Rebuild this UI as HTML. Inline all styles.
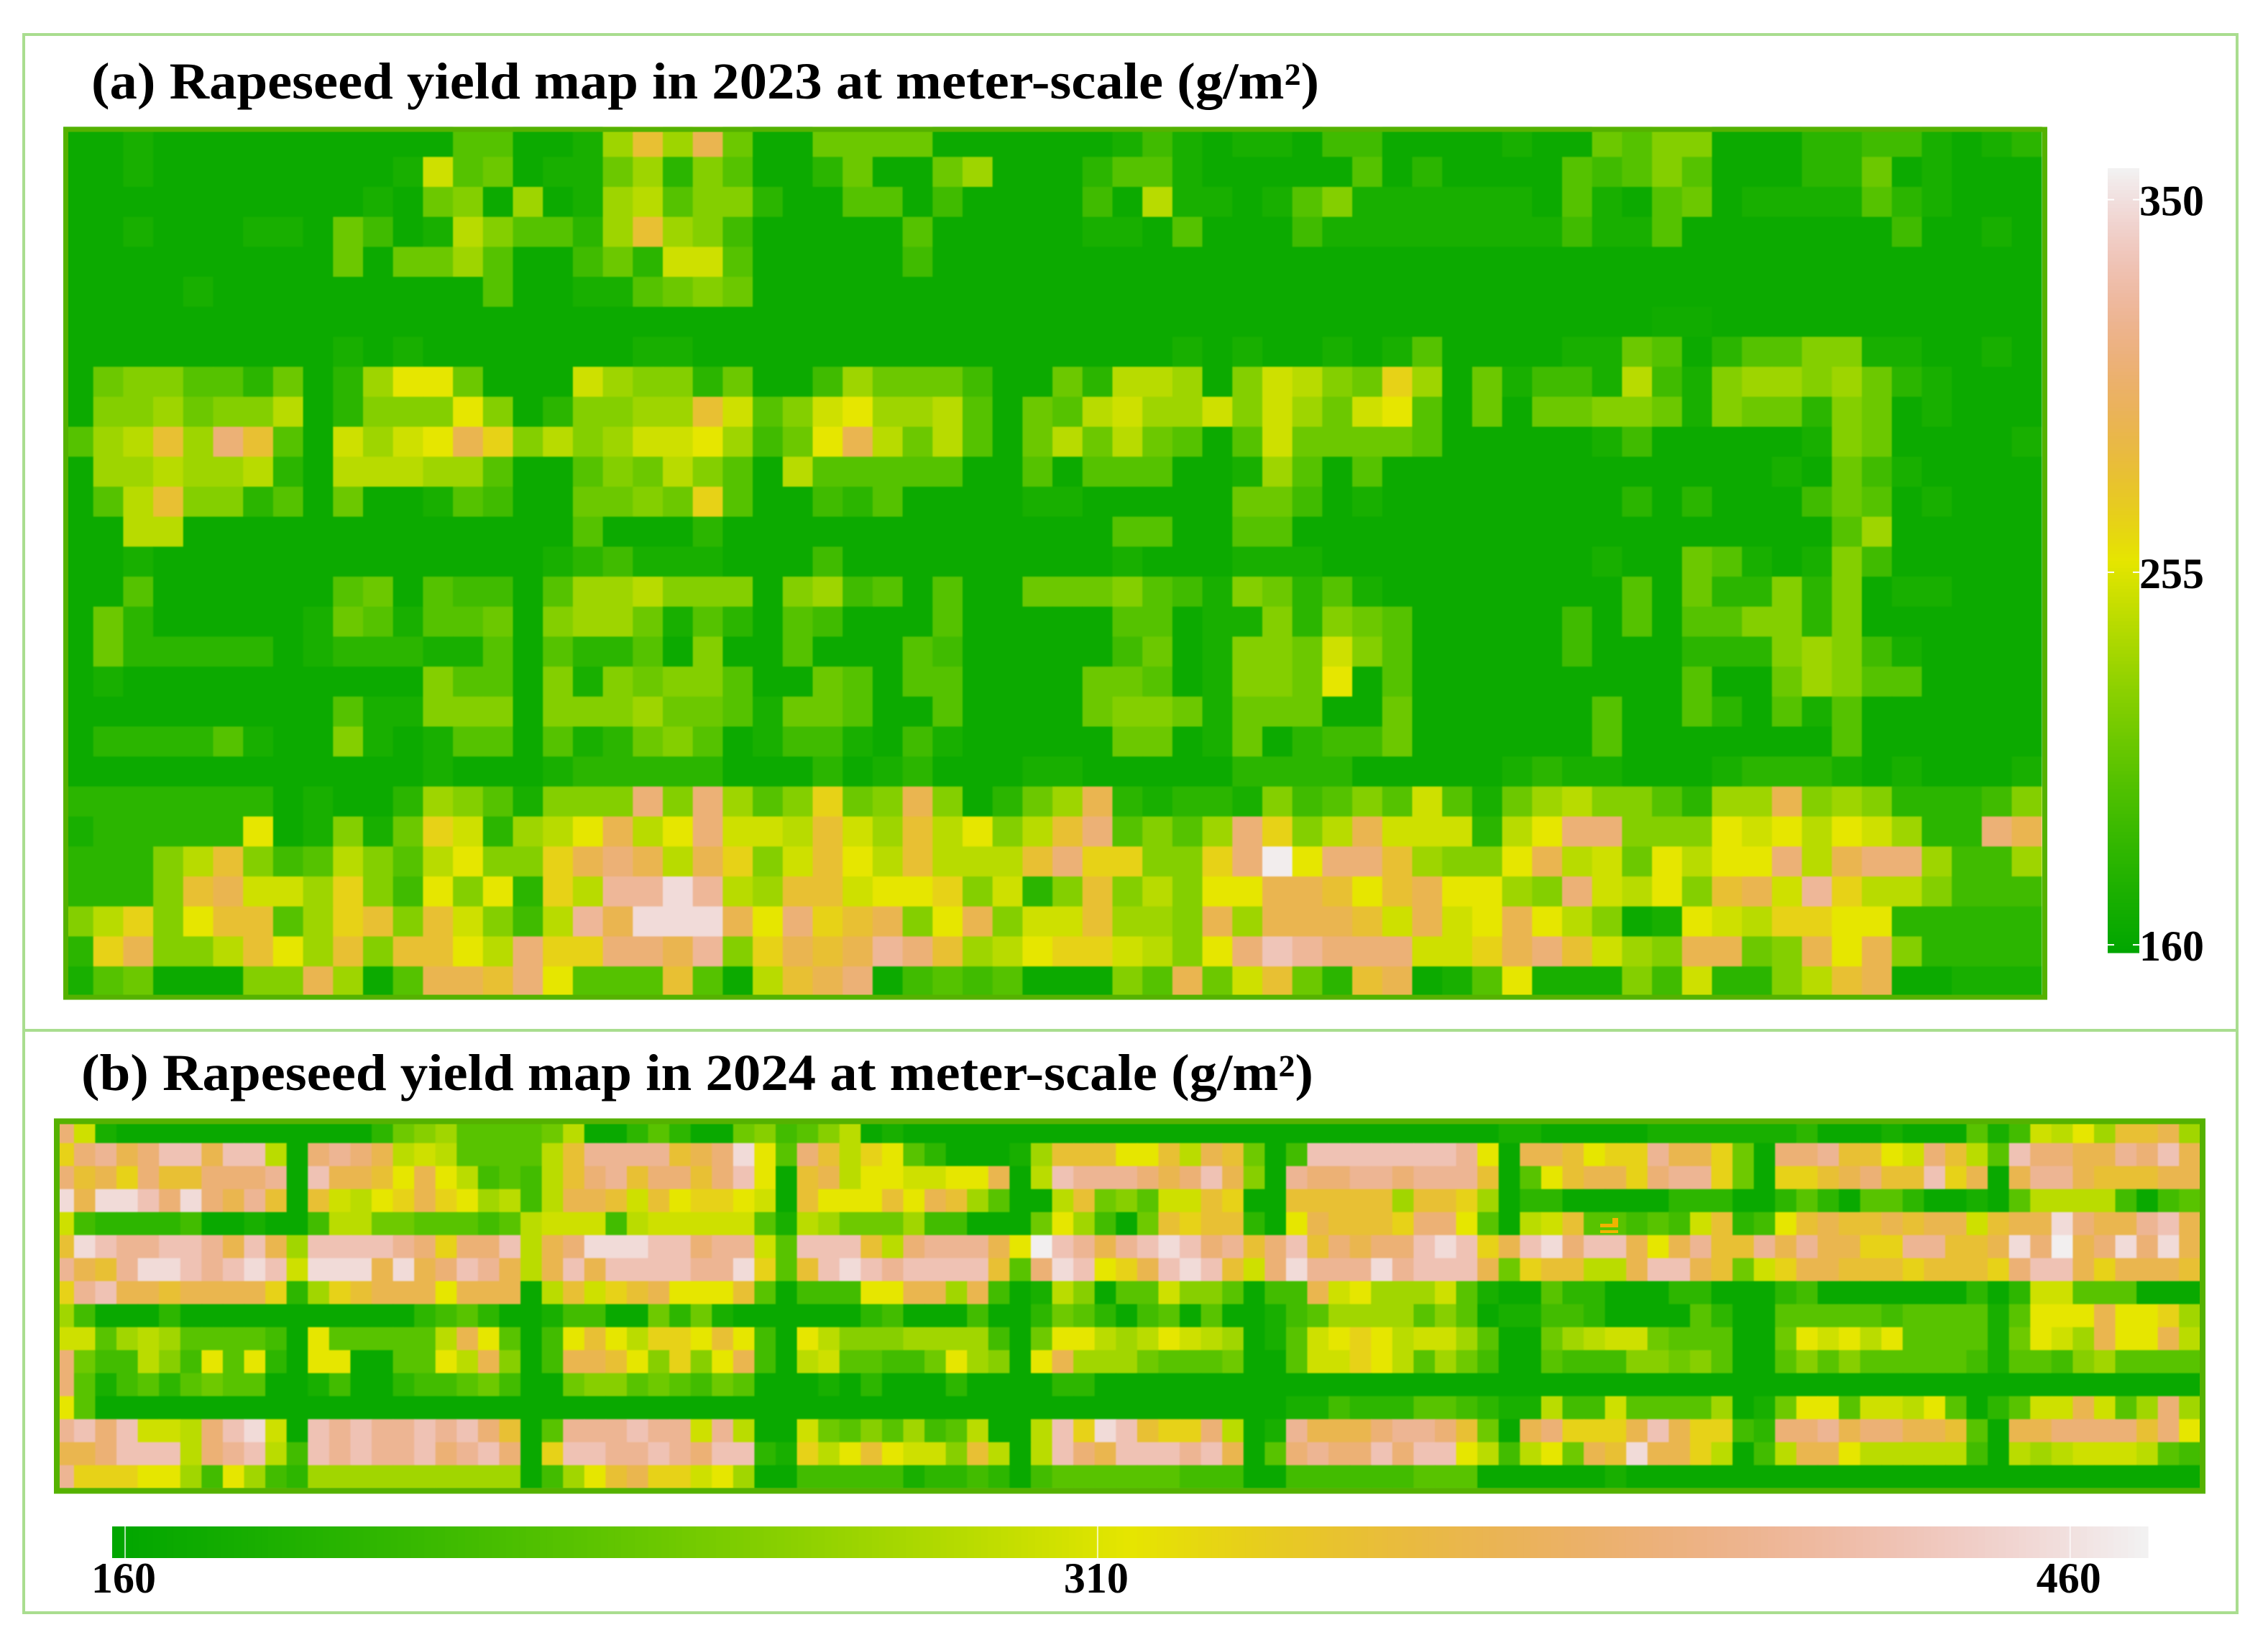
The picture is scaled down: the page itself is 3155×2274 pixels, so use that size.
<!DOCTYPE html>
<html lang="en">
<head>
<meta charset="utf-8">
<title>Rapeseed yield maps</title>
<style>
html,body{margin:0;padding:0;background:#fff;width:3155px;height:2274px;overflow:hidden}
svg{display:block}
text{font-family:"Liberation Serif",serif;font-weight:bold;fill:#000}
#heatA,#heatB{filter:blur(0.8px)}
</style>
</head>
<body>
<svg id="fig" xmlns="http://www.w3.org/2000/svg" width="3155" height="2274" viewBox="0 0 3155 2274">
<defs>
<clipPath id="clipA"><rect x="88" y="176" width="2760" height="1215"/></clipPath>
<clipPath id="clipB"><rect x="75" y="1555" width="2993" height="522"/></clipPath>
</defs>
<rect x="33" y="48" width="3079" height="2195" fill="none" stroke="#a9dd8f" stroke-width="4"/>
<line x1="33" y1="1433" x2="3112" y2="1433" stroke="#a9dd8f" stroke-width="4"/>
<text x="127" y="137" font-size="72" textLength="1708" lengthAdjust="spacingAndGlyphs">(a) Rapeseed yield map in 2023 at meter-scale (g/m²)</text>
<text x="113" y="1516" font-size="72" textLength="1714" lengthAdjust="spacingAndGlyphs">(b) Rapeseed yield map in 2024 at meter-scale (g/m²)</text>
<g id="heatA" clip-path="url(#clipA)"></g>
<rect x="91.5" y="180" width="2753" height="1207" fill="none" stroke="#55b200" stroke-width="7"/>
<g id="heatB" clip-path="url(#clipB)"></g>
<rect x="79" y="1559.5" width="2985" height="514" fill="none" stroke="#55b200" stroke-width="8"/>
<g fill="#f0b400">
<rect x="2243" y="1694" width="8" height="12"/><rect x="2226" y="1702" width="25" height="5"/><rect x="2226" y="1711" width="25" height="4"/>
</g>
<g id="barA"></g>
<g id="barB"></g>
</svg>
<script>
const yield2023 = [
[165,165,172,165,165,165,165,165,165,165,165,165,165,202,202,165,165,172,232,280,232,292,212,165,165,212,212,212,212,165,165,165,165,165,165,172,192,172,165,172,172,165,192,192,165,165,165,165,172,165,165,212,202,222,222,165,165,165,182,182,192,192,172,165,172,182],
[165,165,172,165,165,165,165,165,165,165,165,172,250,202,212,165,172,172,212,232,182,222,202,165,165,182,212,165,165,212,232,165,165,165,182,202,202,172,165,165,165,165,165,202,165,182,165,165,165,165,202,192,202,222,202,165,165,165,182,182,212,165,172,165,165,165],
[165,165,165,165,165,165,165,165,165,165,172,165,212,222,165,232,165,172,232,242,202,222,222,182,165,165,202,202,165,192,165,165,165,165,192,165,242,172,172,165,172,202,222,172,172,172,172,172,172,165,202,172,165,202,212,165,172,172,172,172,202,182,172,165,165,165],
[165,165,172,165,165,165,172,172,165,212,192,165,172,242,222,202,202,182,232,280,232,222,192,165,165,165,165,165,202,165,165,165,165,165,172,172,165,202,165,165,165,192,172,172,172,172,172,172,172,172,192,172,172,202,165,165,165,165,165,165,165,192,165,165,172,165],
[165,165,165,165,165,165,165,165,165,212,165,212,212,232,202,165,165,192,212,182,250,250,202,165,165,165,165,165,192,165,165,165,165,165,165,165,165,165,165,165,165,165,165,165,165,165,165,165,165,165,165,165,165,165,165,165,165,165,165,165,165,165,165,165,165,165],
[165,165,165,165,172,165,165,165,165,165,165,165,165,165,202,165,165,172,172,202,212,222,212,165,165,165,165,165,165,165,165,165,165,165,165,165,165,165,165,165,165,165,165,165,165,165,165,165,165,165,165,165,165,165,165,165,165,165,165,165,165,165,165,165,165,165],
[165,165,165,165,165,165,165,165,165,165,165,165,165,165,165,165,165,165,165,165,165,165,165,165,165,165,165,165,165,165,165,165,165,165,165,165,165,165,165,165,165,165,165,165,165,165,165,165,165,165,165,165,165,168,168,165,165,165,165,165,165,165,165,165,165,165],
[165,165,165,165,165,165,165,165,165,172,165,172,165,165,165,165,165,165,165,172,172,165,165,165,165,165,165,165,165,165,165,165,165,165,165,165,165,172,165,172,165,165,172,165,172,202,165,165,165,165,172,172,212,202,165,182,202,202,222,222,172,172,165,165,172,165],
[165,212,222,222,202,202,182,212,165,182,232,258,258,212,165,165,165,250,232,222,222,182,212,165,165,192,232,212,212,212,192,165,165,212,182,242,242,232,165,222,250,242,222,212,268,232,165,212,172,192,192,172,242,192,172,222,232,232,222,232,212,182,172,165,165,165],
[165,222,222,232,212,222,222,242,165,182,222,222,222,258,222,165,182,222,222,232,232,280,250,202,222,250,258,232,232,242,202,165,212,202,242,250,232,232,250,222,250,232,212,250,258,202,165,212,165,212,212,222,222,212,172,222,212,212,182,222,212,165,172,165,165,165],
[202,232,242,280,232,308,280,202,165,250,232,250,258,292,268,222,242,222,232,250,250,258,232,192,212,258,292,242,212,242,202,165,212,242,212,242,212,202,165,202,250,212,212,212,212,202,165,165,165,165,165,172,192,165,165,165,165,165,172,222,212,165,165,165,165,172],
[165,232,232,242,232,232,242,182,165,242,242,242,232,232,202,165,165,202,222,212,242,222,202,165,242,202,202,202,202,202,165,165,202,165,202,202,202,165,165,172,232,202,165,202,165,165,165,165,165,165,165,165,165,165,165,165,165,172,165,212,192,172,165,165,165,165],
[165,202,242,280,222,222,182,202,165,212,165,165,172,202,192,165,165,212,212,222,212,268,202,165,165,192,182,202,165,165,165,165,172,172,165,165,165,165,165,212,212,192,165,172,165,165,165,165,165,165,165,165,182,165,182,165,165,165,192,212,202,165,172,165,165,165],
[165,165,242,242,165,165,165,165,165,165,165,165,165,165,165,165,165,202,165,165,165,182,165,165,165,165,165,165,165,165,165,165,165,165,165,202,202,165,165,202,202,165,165,165,165,165,165,165,165,165,165,165,165,165,165,165,165,165,165,202,232,165,165,165,165,165],
[165,165,172,165,165,165,165,165,165,165,165,165,165,165,165,165,172,182,192,172,172,172,165,165,165,192,165,165,165,165,165,165,165,165,165,172,165,165,165,172,172,172,165,165,165,165,165,165,165,165,165,172,165,165,212,202,172,165,172,222,192,165,165,165,165,165],
[165,165,202,165,165,165,165,165,165,202,212,165,202,192,192,165,202,232,232,242,222,222,222,165,222,232,192,202,165,202,165,165,212,212,212,222,202,192,172,222,212,182,202,172,165,165,165,165,165,165,165,165,202,165,212,182,182,222,182,222,165,172,172,165,165,165],
[165,212,182,165,165,165,165,165,172,212,202,172,202,202,212,165,222,232,232,212,172,202,182,165,202,192,165,165,165,202,165,165,165,165,165,202,202,165,172,172,222,182,222,212,202,165,165,165,165,165,192,165,202,165,202,202,222,222,182,222,165,165,165,165,165,165],
[165,212,182,182,182,182,182,165,172,182,182,182,172,172,202,165,202,182,182,202,165,222,165,165,202,165,165,165,202,192,165,165,165,165,165,192,212,165,172,222,222,212,250,222,202,165,165,165,165,165,192,165,165,165,182,182,182,222,232,222,192,172,165,165,165,165],
[165,172,165,165,165,165,165,165,165,165,165,165,222,202,202,165,222,172,222,212,222,222,202,165,165,212,202,165,202,202,165,165,165,165,212,212,202,165,172,222,222,212,258,165,202,165,165,165,165,165,165,165,165,165,202,165,165,212,232,222,202,202,165,165,165,165],
[165,165,165,165,165,165,165,165,165,202,172,172,222,222,222,165,222,222,222,232,212,212,202,172,212,212,202,165,165,202,165,165,165,165,212,222,222,212,172,212,212,212,165,165,212,165,165,165,165,165,165,202,165,165,202,182,165,202,172,202,165,165,165,165,165,165],
[165,182,182,182,182,202,172,165,165,222,172,165,172,202,202,165,202,172,182,212,222,202,165,172,192,192,172,165,192,172,165,165,165,165,165,212,212,165,172,212,165,182,192,192,212,165,165,165,165,165,165,202,165,165,165,165,165,165,165,202,165,165,165,165,165,165],
[165,165,165,165,165,165,165,165,165,165,165,165,172,165,165,165,172,182,182,182,182,182,165,165,165,182,165,172,182,165,165,165,172,172,165,165,165,165,165,182,182,182,182,165,165,165,165,165,172,182,172,172,165,165,165,172,182,182,182,172,165,172,165,165,165,172],
[182,182,182,182,182,182,182,165,172,165,165,182,232,222,202,172,222,222,222,308,222,308,232,202,222,268,212,222,292,222,165,182,212,232,292,182,172,182,182,172,222,192,202,222,202,250,202,172,212,232,242,222,222,202,182,232,232,292,222,232,222,182,182,182,192,222],
[172,182,182,182,182,182,258,165,172,222,172,212,268,250,182,232,242,258,292,242,258,308,250,250,242,280,250,232,280,242,258,222,242,280,308,202,222,202,232,308,268,222,242,292,250,250,250,182,242,258,308,308,222,222,222,258,250,258,242,258,250,232,182,182,308,292],
[182,182,182,222,242,280,222,192,202,242,222,202,242,258,222,222,268,292,308,292,242,292,268,222,250,280,258,242,280,242,242,242,280,308,268,268,222,222,268,308,356,258,308,308,280,232,222,222,258,292,242,250,212,258,242,258,258,308,242,292,308,308,232,192,192,232],
[182,182,182,222,280,292,250,250,232,268,222,192,258,222,258,182,268,242,322,322,348,322,242,232,280,280,250,258,258,268,222,250,182,222,280,222,242,222,258,258,292,292,280,258,280,292,258,258,232,222,308,250,242,258,222,280,292,250,322,268,242,242,222,192,192,192],
[222,242,268,222,258,280,280,202,232,268,280,222,280,250,222,192,242,322,292,348,348,348,292,258,308,268,280,292,222,258,292,222,250,250,280,232,232,222,292,232,292,292,292,280,250,292,250,258,292,258,242,222,165,172,258,250,242,268,268,258,258,182,182,182,182,182],
[182,268,292,222,222,242,280,258,232,280,222,280,280,258,242,308,268,268,308,308,292,322,222,268,292,280,292,322,308,280,232,242,258,268,268,250,242,222,258,308,335,322,308,308,308,250,250,268,292,308,280,250,232,222,292,292,212,222,292,258,292,222,182,182,182,182],
[172,202,212,165,165,165,222,222,292,232,165,202,292,292,280,308,258,202,202,202,280,202,165,242,280,292,308,165,192,202,192,202,165,165,165,222,202,292,212,250,280,212,182,280,292,165,172,202,258,172,172,172,222,192,250,182,182,222,242,280,292,165,165,172,172,172]
];
const yield2024 = [
[393,302,180,166,166,166,166,166,166,166,166,166,166,166,166,197,244,260,276,229,229,229,229,244,291,166,166,197,229,197,166,166,244,260,213,229,260,291,166,180,166,166,166,166,166,166,166,166,166,166,166,166,166,166,166,166,166,166,166,166,166,166,166,166,166,166,166,166,180,180,166,166,166,166,166,180,180,180,180,180,180,180,197,166,166,166,180,166,166,166,229,180,213,302,291,315,276,350,350,368,276],
[331,393,412,368,393,433,433,368,433,433,291,166,393,412,393,368,291,302,291,229,229,229,229,291,350,412,412,412,412,350,368,393,456,315,229,393,350,291,331,315,229,197,166,166,166,180,276,350,350,350,315,315,350,291,368,350,244,166,213,433,433,433,433,433,433,433,412,315,166,368,368,350,315,331,331,412,368,368,331,244,166,393,393,412,350,350,315,302,393,350,291,229,433,393,393,368,368,412,393,433,368],
[393,350,368,331,393,350,350,393,393,393,412,166,433,368,368,350,315,368,315,291,213,229,213,291,350,393,412,350,393,393,350,393,433,315,166,350,368,291,315,315,302,302,315,315,368,166,291,433,412,412,412,393,368,393,433,368,260,166,412,393,393,412,412,393,412,412,412,350,166,229,315,350,368,368,331,393,412,412,331,244,166,331,331,350,368,393,350,350,433,331,368,166,368,412,412,368,350,350,350,368,368],
[456,368,456,456,433,393,456,393,368,412,350,166,350,302,291,315,331,368,331,315,276,291,213,291,368,368,350,302,350,315,331,331,315,302,166,350,315,315,315,350,315,368,350,276,229,166,166,291,350,244,260,229,302,302,350,331,166,166,350,350,350,350,350,276,350,350,331,276,166,197,197,166,166,166,166,166,197,197,197,166,166,197,229,197,166,229,229,197,166,166,180,166,229,291,291,291,291,213,166,213,229],
[302,213,197,197,197,197,213,166,166,180,166,166,213,291,291,244,244,229,229,229,213,229,291,302,302,302,213,291,302,302,302,302,302,229,180,291,276,244,244,244,276,213,213,166,166,166,244,315,276,213,166,244,350,331,350,350,197,166,315,368,350,350,350,331,393,393,315,229,166,291,302,350,229,229,213,229,213,302,350,197,213,315,350,368,350,350,368,350,368,368,302,350,368,368,456,393,368,368,412,433,368],
[350,456,433,412,412,433,433,412,368,433,368,276,433,433,433,433,412,393,331,393,393,433,291,368,393,456,456,456,433,433,393,412,412,302,229,433,433,433,350,291,393,412,412,412,368,315,470,433,412,368,412,433,456,433,393,412,350,393,433,350,393,368,393,393,433,456,433,331,368,433,456,393,433,433,368,315,368,412,350,350,412,368,412,368,368,331,331,412,412,350,350,368,456,393,470,368,393,456,393,456,368],
[412,368,350,412,456,456,433,412,433,456,433,302,456,456,456,368,456,368,393,433,412,368,291,368,433,368,433,433,433,433,412,412,456,331,229,350,433,456,433,412,433,433,433,433,350,229,393,456,433,315,331,368,433,456,433,350,302,393,456,412,412,412,456,412,433,433,433,368,244,331,350,350,291,291,368,433,433,368,350,244,302,331,368,368,350,350,350,331,350,350,350,331,393,433,433,368,331,368,368,368,350],
[331,412,433,368,368,350,368,368,368,368,331,197,276,331,350,368,368,368,315,368,368,368,166,291,350,302,331,350,368,315,315,315,350,229,166,213,213,213,315,315,368,368,276,368,213,166,180,291,260,166,229,229,302,260,260,229,166,213,213,368,302,315,276,276,276,302,229,180,166,166,229,197,197,166,166,166,197,197,166,166,166,197,213,166,166,166,166,166,166,166,197,166,197,302,302,229,229,229,166,166,166],
[276,213,166,166,166,197,166,166,166,166,166,166,166,166,166,166,166,197,213,229,197,166,166,180,213,213,166,166,244,197,244,180,166,166,166,166,166,166,197,213,166,166,166,213,166,166,197,244,229,197,166,213,229,166,229,166,166,180,213,229,276,276,276,276,229,260,229,166,180,180,213,213,197,166,166,166,166,229,197,166,166,229,229,229,229,229,213,229,229,229,229,180,229,315,315,315,368,315,315,331,276],
[302,302,229,276,291,276,229,229,229,229,213,166,315,229,229,229,229,229,291,368,315,229,166,213,315,350,315,291,331,331,315,350,315,213,166,315,291,260,260,260,276,276,276,276,213,166,244,315,315,291,276,291,315,302,291,276,166,180,229,302,315,331,315,291,302,302,276,229,166,166,244,276,291,302,302,244,229,229,229,166,166,244,315,302,315,291,315,229,229,229,229,180,244,315,302,276,368,315,315,368,291],
[393,244,213,213,291,260,213,315,229,315,197,166,315,315,166,166,229,229,315,291,368,260,166,213,368,368,350,315,260,331,260,315,368,213,166,291,302,229,229,213,213,244,315,276,260,166,315,368,276,276,276,244,229,229,229,244,166,166,229,302,302,331,315,291,229,276,244,213,166,166,229,213,213,213,260,260,244,260,229,166,166,229,260,229,260,229,229,229,229,229,213,180,229,229,213,260,276,229,229,229,229],
[393,229,180,213,229,197,229,244,229,229,166,166,180,213,166,166,197,213,213,229,244,213,166,166,244,260,260,229,244,229,213,244,229,166,166,166,180,166,197,166,166,166,197,166,166,166,166,197,197,166,166,166,166,166,166,166,166,166,166,166,166,166,166,166,166,166,166,166,166,166,166,166,166,166,166,166,166,166,166,166,166,166,166,166,166,166,166,166,166,166,166,166,166,166,166,166,166,166,166,166,166],
[315,229,166,166,166,166,166,166,166,166,166,166,166,166,166,166,166,166,166,166,166,166,166,166,166,166,166,166,166,166,166,166,166,166,166,166,166,166,166,166,166,166,166,166,166,166,166,166,166,166,166,166,166,166,166,166,166,166,180,180,213,197,197,197,229,229,213,197,180,180,291,213,213,302,229,229,229,229,276,166,180,244,315,315,229,302,302,291,315,229,166,197,229,302,302,368,302,229,276,393,276],
[412,433,393,433,302,302,291,393,433,456,302,166,433,412,433,412,412,433,412,433,393,350,166,229,412,412,412,433,412,412,302,412,291,166,166,302,244,229,260,229,276,213,229,291,166,166,291,433,331,456,433,350,331,331,393,291,166,180,412,368,368,368,393,412,412,393,350,244,166,368,393,331,331,331,368,433,368,331,331,213,197,393,393,412,368,393,393,368,368,350,229,166,368,368,393,393,393,393,350,393,315],
[368,368,393,433,433,433,291,393,412,433,291,213,433,412,433,412,412,433,393,412,433,393,166,331,433,433,412,412,433,412,393,433,433,197,180,331,291,315,350,315,302,302,260,350,291,166,291,433,393,368,433,433,433,412,433,368,166,229,393,412,393,393,433,393,433,433,315,291,213,291,315,244,368,350,456,368,368,331,291,166,213,291,368,368,315,291,291,291,291,291,213,166,291,276,291,302,302,302,291,229,213],
[412,331,331,331,315,315,276,213,315,276,213,197,276,276,276,276,276,276,276,276,276,276,166,213,276,315,350,368,331,331,302,315,276,166,166,213,213,213,213,213,180,197,197,213,197,166,213,229,229,229,229,229,229,213,213,213,166,166,213,213,213,213,213,213,229,229,229,166,166,166,166,166,166,180,166,166,166,166,166,166,166,166,166,166,166,166,166,166,166,166,166,166,166,166,166,166,166,166,166,166,166]
];
const scale2023 = [158, 358];
const scale2024 = [158, 472];
const ticks2023 = [350, 255, 160];
const ticks2024 = [160, 310, 460];

const SVGNS = 'http://www.w3.org/2000/svg';
function terrain(t) {
  t = Math.max(0, Math.min(1, t));
  let h, s, v;
  if (t < 0.5) {
    const f = t / 0.5;
    h = 120 - 60 * f; s = 1; v = 0.65 + 0.25 * f;
  } else {
    const g = (t - 0.5) / 0.5;
    h = 60 - 60 * g; s = 1 - g; v = 0.9 + 0.05 * g;
  }
  const c = v * s, x = c * (1 - Math.abs((h / 60) % 2 - 1)), m = v - c;
  const r = h < 60 ? c : x, gg = h < 60 ? x : c;
  return 'rgb(' + Math.round((r + m) * 255) + ',' + Math.round((gg + m) * 255) + ',' + Math.round(m * 255) + ')';
}
function colorOf(v, dom) { return terrain((v - dom[0]) / (dom[1] - dom[0])); }

function drawHeat(groupId, rows, dom, x0, y0, cw, ch, cellName) {
  const g = document.getElementById(groupId);
  rows.forEach(function (row, r) {
    row.forEach(function (v, c) {
      const el = document.createElementNS(SVGNS, 'rect');
      el.setAttribute('x', x0 + c * cw);
      el.setAttribute('y', y0 + r * ch);
      el.setAttribute('width', cw + 0.6);
      el.setAttribute('height', ch + 0.6);
      el.setAttribute('fill', colorOf(v, dom));
      
      
      g.appendChild(el);
    });
  });
}
drawHeat('heatA', yield2023, scale2023, 88, 176.5, 41.7, 41.7, 'yield-cell-2023');
drawHeat('heatB', yield2024, scale2024, 73.3, 1557.8, 29.58, 32, 'yield-cell-2024');

/* vertical colorbar (2023) */
(function () {
  const g = document.getElementById('barA');
  const top = 234, bottom = 1325, left = 2932, right = 2976, n = 220;
  const y = function (v) { return bottom - (v - scale2023[0]) / (scale2023[1] - scale2023[0]) * (bottom - top); };
  for (let i = 0; i < n; i++) {
    const v = scale2023[0] + (i + 0.5) / n * (scale2023[1] - scale2023[0]);
    const el = document.createElementNS(SVGNS, 'rect');
    el.setAttribute('x', left);
    el.setAttribute('y', y(v) - (bottom - top) / n / 2);
    el.setAttribute('width', right - left);
    el.setAttribute('height', (bottom - top) / n + 0.6);
    el.setAttribute('fill', colorOf(v, scale2023));
    
    
    g.appendChild(el);
  }
  ticks2023.forEach(function (v) {
    [left, right - 9].forEach(function (tx) {
      const tk = document.createElementNS(SVGNS, 'rect');
      tk.setAttribute('x', tx);
      tk.setAttribute('y', y(v) - 1);
      tk.setAttribute('width', 9);
      tk.setAttribute('height', 2);
      tk.setAttribute('fill', '#fff');
      
      
      g.appendChild(tk);
    });
    const t = document.createElementNS(SVGNS, 'text');
    t.setAttribute('x', 2976);
    t.setAttribute('y', y(v) + 22);
    t.setAttribute('font-size', 60);
    t.setAttribute('textLength', 90);
    t.setAttribute('lengthAdjust', 'spacingAndGlyphs');
    
    
    t.textContent = v;
    g.appendChild(t);
  });
})();

/* horizontal colorbar (2024) */
(function () {
  const g = document.getElementById('barB');
  const left = 156, right = 2988, top = 2123, bottom = 2167, n = 300;
  const x = function (v) { return left + (v - scale2024[0]) / (scale2024[1] - scale2024[0]) * (right - left); };
  for (let i = 0; i < n; i++) {
    const v = scale2024[0] + (i + 0.5) / n * (scale2024[1] - scale2024[0]);
    const el = document.createElementNS(SVGNS, 'rect');
    el.setAttribute('x', x(v) - (right - left) / n / 2);
    el.setAttribute('y', top);
    el.setAttribute('width', (right - left) / n + 0.6);
    el.setAttribute('height', bottom - top);
    el.setAttribute('fill', colorOf(v, scale2024));
    
    
    g.appendChild(el);
  }
  ticks2024.forEach(function (v) {
    const tk = document.createElementNS(SVGNS, 'rect');
    tk.setAttribute('x', x(v) - 1);
    tk.setAttribute('y', top);
    tk.setAttribute('width', 2);
    tk.setAttribute('height', bottom - top);
    tk.setAttribute('fill', '#fff');
    tk.setAttribute('opacity', '0.7');
    
    
    g.appendChild(tk);
    const t = document.createElementNS(SVGNS, 'text');
    t.setAttribute('x', x(v) - 45 - 2);
    t.setAttribute('y', 2215);
    t.setAttribute('font-size', 60);
    t.setAttribute('textLength', 90);
    t.setAttribute('lengthAdjust', 'spacingAndGlyphs');
    
    
    t.textContent = v;
    g.appendChild(t);
  });
})();
</script>
</body>
</html>
